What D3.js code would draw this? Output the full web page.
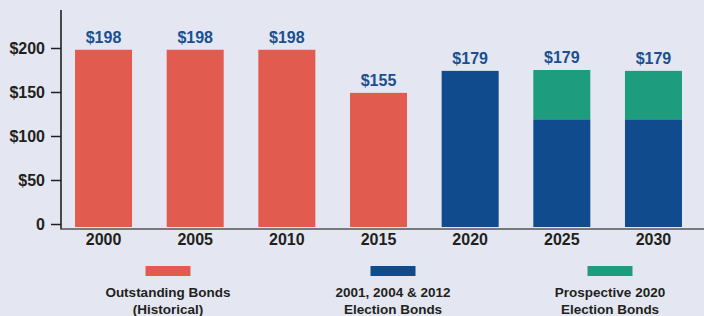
<!DOCTYPE html>
<html>
<head>
<meta charset="utf-8">
<script src="https://cdn.jsdelivr.net/npm/d3@7"></script>
<style>
  html, body { margin: 0; padding: 0; background: #e4e7f1; }
  svg { display: block; }
  text { font-family: "Liberation Sans", Arial, sans-serif; font-weight: bold; }
</style>
</head>
<body>
<div id="chart"></div>
<script>
// data
const years = ["2000", "2005", "2010", "2015", "2020", "2025", "2030"];
const historical = [198, 198, 198, 149, 0, 0, 0];   // drawn bar heights
const election = [0, 0, 0, 0, 174, 119, 119];
const prospective = [0, 0, 0, 0, 0, 56, 55];
const totalLabels = ["$198", "$198", "$198", "$155", "$179", "$179", "$179"];
const yTicks = [0, 50, 100, 150, 200];
const legendLabels = [
    ["Outstanding Bonds", "(Historical)"],
    ["2001, 2004 & 2012", "Election Bonds"],
    ["Prospective 2020", "Election Bonds"]
];
const colors = ["#e25b4f", "#0f4b8d", "#1e9c7e"];

const width = 704, height = 316;

const svg = d3.select("#chart").append("svg")
    .attr("width", width)
    .attr("height", height);

const x = d3.scaleBand()
    .domain(years)
    .range([61, 696])
    .paddingInner(0.378)
    .paddingOuter(0.153);

const y = d3.scaleLinear()
    .domain([0, 200])
    .range([224, 48]);

// stacked bars
const rows = years.map((yr, i) => ({ year: yr, historical: historical[i], election: election[i], prospective: prospective[i] }));
const stack = d3.stack().keys(["historical", "election", "prospective"])(rows);

svg.append("g")
    .selectAll("g")
    .data(stack)
    .enter()
    .append("g")
    .attr("fill", (d, i) => colors[i])
    .selectAll("rect")
    .data(d => d.filter(s => s[1] > s[0]))
    .enter()
    .append("rect")
    .attr("x", d => x(d.data.year))
    .attr("width", x.bandwidth())
    .attr("y", d => y(d[1]))
    // bars run a little past the zero line, down to the axis
    .attr("height", d => y(d[0]) - y(d[1]) + (d[0] === 0 ? 3 : 0));

// value labels
svg.append("g")
    .selectAll("text")
    .data(years)
    .enter()
    .append("text")
    .attr("x", d => x(d) + x.bandwidth() / 2)
    .attr("y", (d, i) => y(historical[i] + election[i] + prospective[i]) - 7)
    .attr("text-anchor", "middle")
    .attr("font-size", 16)
    .attr("fill", "#1a4f90")
    .text((d, i) => totalLabels[i]);

// y axis
const yAxis = svg.append("g")
    .attr("transform", "translate(61,0)")
    .call(d3.axisLeft(y)
        .tickValues(yTicks)
        .tickSize(10)
        .tickPadding(6)
        .tickFormat(d => d === 0 ? "0" : "$" + d));
yAxis.select(".domain").remove();
yAxis.selectAll("line").attr("stroke", "#231f20").attr("stroke-width", 1.5);
yAxis.selectAll("text")
    .attr("font-size", 16)
    .attr("fill", "#231f20")
    .attr("font-family", "Liberation Sans, Arial, sans-serif")
    .attr("font-weight", "bold");

svg.append("line")
    .attr("x1", 61).attr("x2", 61)
    .attr("y1", 10).attr("y2", 229.5)
    .attr("stroke", "#231f20")
    .attr("stroke-width", 1.6);

// x axis
const xAxis = svg.append("g")
    .attr("transform", "translate(0,229)")
    .call(d3.axisBottom(x).tickSize(0).tickPadding(5));
xAxis.select(".domain").remove();
xAxis.selectAll("text")
    .attr("font-size", 16)
    .attr("fill", "#231f20")
    .attr("font-family", "Liberation Sans, Arial, sans-serif")
    .attr("font-weight", "bold");

svg.append("line")
    .attr("x1", 61).attr("x2", width)
    .attr("y1", 229).attr("y2", 229)
    .attr("stroke", "#555")
    .attr("stroke-width", 1.6);

// legend
const legendX = [168, 393, 610];
const legend = svg.append("g")
    .selectAll("g")
    .data(legendLabels)
    .enter()
    .append("g")
    .attr("transform", (d, i) => `translate(${legendX[i]},0)`);

legend.append("rect")
    .attr("x", -22.5)
    .attr("y", 266)
    .attr("width", 45)
    .attr("height", 10)
    .attr("fill", (d, i) => colors[i]);

legend.append("text")
    .attr("text-anchor", "middle")
    .attr("font-size", 13.5)
    .attr("fill", "#231f20")
    .selectAll("tspan")
    .data(d => d)
    .enter()
    .append("tspan")
    .attr("x", 0)
    .attr("y", (d, i) => 297 + i * 17)
    .text(d => d);
</script>
</body>
</html>
